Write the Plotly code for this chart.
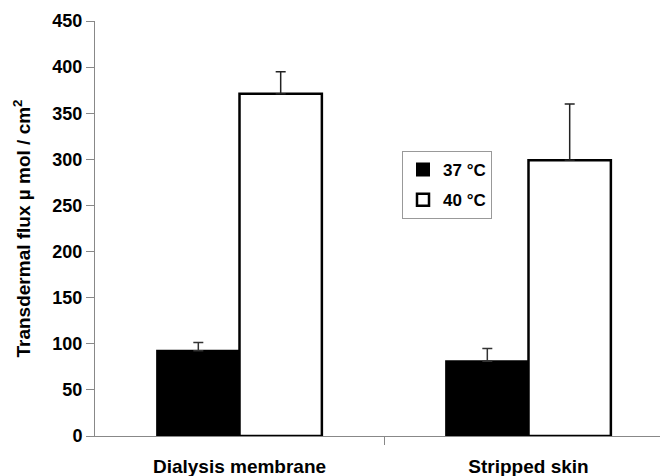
import plotly.graph_objects as go

categories = ["Dialysis membrane", "Stripped skin"]
series_names = ["37 °C", "40 °C"]
flux_37 = [92.5, 81]
err_37 = [9, 14]
flux_40 = [371, 299]
err_40 = [24, 61]
y_ticks = [0, 50, 100, 150, 200, 250, 300, 350, 400, 450]

xpos = list(range(len(categories)))
FONT = "Liberation Sans, Arial, sans-serif"

fig = go.Figure()
fig.add_trace(go.Bar(
    x=xpos, y=flux_37, name=series_names[0], legendgroup="a",
    marker=dict(color="black", line=dict(color="black", width=2)),
    error_y=dict(type="data", symmetric=False, array=err_37, arrayminus=[0, 0],
                 color="#333333", thickness=1.5, width=5),
))
fig.add_trace(go.Bar(
    x=xpos, y=flux_40, name=series_names[1], legendgroup="b",
    marker=dict(color="white", line=dict(color="black", width=2.5)),
    error_y=dict(type="data", symmetric=False, array=err_40, arrayminus=[0, 0],
                 color="#222222", thickness=1.5, width=5),
))

fig.update_layout(
    width=660, height=476,
    margin=dict(l=95, r=0, t=21, b=40),
    paper_bgcolor="white", plot_bgcolor="white",
    barmode="group", bargap=0.43, bargroupgap=0,
    font=dict(family=FONT, color="black", size=16),
    legend=dict(
        x=(402 - 95) / 565, y=(436 - 151) / 415, xanchor="left", yanchor="top",
        bordercolor="#999999", borderwidth=1, bgcolor="white",
        font=dict(family=FONT, size=17, color="black", weight="bold"),
        tracegroupgap=5, traceorder="grouped",
    ),
    showlegend=True,
)
fig.update_xaxes(
    range=[-0.5, 1.455], automargin=False,
    tickmode="array", tickvals=xpos, ticktext=categories,
    ticks="", showline=True, linecolor="#888888", linewidth=1,
    showgrid=False, zeroline=False,
    tickfont=dict(family=FONT, size=19, color="black", weight="bold"),
    ticklabelstandoff=13,
    minor=dict(tickmode="array", tickvals=[0.5], ticks="outside", ticklen=8,
               tickcolor="#888888", tickwidth=1, showgrid=False),
)
fig.update_yaxes(
    range=[0, 450], automargin=False, tickmode="array", tickvals=y_ticks,
    ticks="outside", ticklen=8, tickcolor="#888888", tickwidth=1,
    showline=True, linecolor="#888888", linewidth=1,
    showgrid=False, zeroline=False,
    tickfont=dict(family=FONT, size=18, color="black", weight="bold"),
    title=dict(text="Transdermal flux µ mol / cm<sup>2</sup>", standoff=16,
               font=dict(family=FONT, size=19, color="black", weight="bold")),
)

fig.write_html("out.html", config={"displayModeBar": False},
               post_script="document.body.style.margin='0';document.body.style.overflow='hidden';")
